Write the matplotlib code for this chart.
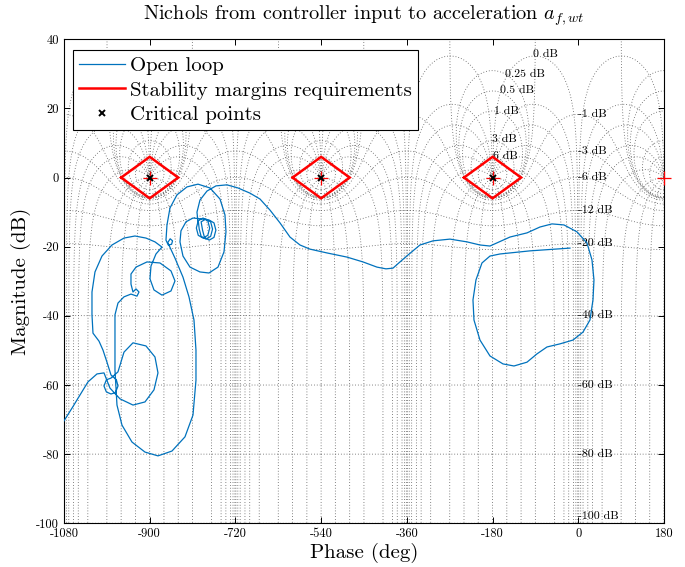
import numpy as np
import matplotlib
matplotlib.use("Agg")
import matplotlib.pyplot as plt
from matplotlib.lines import Line2D

plt.rcParams.update({
    "font.family": "serif",
    "font.serif": ["cmr10"],
    "mathtext.fontset": "cm",
    "axes.unicode_minus": False,
})

# ---------------------------------------------------------------- data
# Open-loop frequency response (phase in deg, magnitude in dB), low -> high frequency
OL_PHASE = [
    -17.4, -101.4, -164.4, -185.4, -202.2, -214.8, -221.1, -219.0, -206.4, -185.4,
    -158.1, -135.0, -107.7, -86.7, -65.7, -38.4, -11.1, 9.9, 24.6, 30.9,
    33.0, 28.8, 18.3, -2.7, -30.0, -55.2, -80.4, -107.7, -143.4, -170.7,
    -185.4, -206.4, -233.7, -269.4, -305.1, -332.4, -357.6, -374.4, -389.1, -403.8,
    -422.7, -452.1, -485.7, -527.7, -563.4, -584.4, -605.4, -626.4, -647.4, -668.4,
    -689.4, -714.6, -737.7, -760.8, -779.7, -794.4, -800.7, -798.6,
    -802, -798, -788, -778, -774, -778, -788, -798,
    -796, -792, -782, -772, -768, -772, -782, -792,
    -789, -785, -775, -765, -761, -765, -775, -788,
    -809.1, -823.8, -834.3, -836.4, -830.1, -815.4, -794.4, -775.5, -756.6, -744.0,
    -739.8, -741.9, -752.4, -773.4, -798.6, -821.7, -842.7, -857.4, -863.7, -865.8,
    -861.0, -854.0, -852.0, -857.0, -862.0,
    -846.9, -830.1, -817.5, -807.0, -802.8, -802.8, -809.1, -825.9, -853.2, -882.6,
    -909.9, -937.2, -958.2, -968.7, -972.9, -972.9, -972.9, -966.6, -954.0, -939.3,
    -926.7, -922.5, -928.8, -935.1,
    -939.3, -939.3, -928.8, -905.7, -878.4, -855.3, -846.9, -855.3, -874.2, -891.0,
    -899.4, -897.3, -886.8, -874.2, -888.9, -907.8, -930.9, -954.0, -979.2, -1000.2,
    -1014.9, -1021.2, -1021.2, -1019.1, -1006.5, -998.1, -989.7, -981.3,
    -970.0, -966.6, -972.0, -981.3, -991.0, -996.0, -991.0, -981.3,
    -966.6, -954.0, -935.1, -907.8, -888.9, -882.6, -891.0, -909.9, -935.1, -962.4,
    -983.4, -991.8, -996.0,
    -1010.7, -1029.6, -1046.4, -1063.2, -1080.0, -1092.0,
]
OL_MAG = [
    -20.4, -21.2, -22.1, -22.7, -24.7, -29.6, -35.4, -41.2, -47.0, -51.6,
    -53.9, -54.5, -53.4, -51.0, -49.0, -48.1, -47.0, -44.7, -41.2, -35.4,
    -29.6, -23.8, -18.9, -15.7, -13.7, -13.4, -14.3, -16.0, -17.2, -18.9,
    -19.8, -19.5, -18.6, -17.8, -18.3, -19.5, -22.4, -24.4, -26.2, -26.4,
    -25.9, -24.4, -23.0, -21.8, -20.7, -19.5, -17.2, -13.1, -9.4, -6.2,
    -4.5, -3.0, -2.1, -2.4, -3.9, -6.5, -10.0, -12.8,
    -14.6, -16.7, -17.5, -16.7, -14.6, -12.5, -11.7, -12.5,
    -14.9, -17.0, -17.8, -17.0, -14.9, -12.8, -12.0, -12.8,
    -15.2, -17.3, -18.1, -17.3, -15.2, -13.1, -12.3, -12.0,
    -11.7, -12.8, -15.4, -18.6, -22.7, -25.9, -27.3, -27.6, -25.9, -21.5,
    -15.7, -10.8, -6.2, -3.0, -1.9, -2.7, -5.0, -8.8, -13.7, -18.1,
    -19.5, -19.3, -18.3, -17.7, -18.8,
    -23.3, -28.8, -34.5, -41.2, -49.9, -58.6, -68.7, -75.0, -79.1, -80.5,
    -79.4, -76.5, -71.6, -65.8, -55.7, -47.0, -39.7, -36.3, -34.5, -33.7,
    -34.3, -33.1, -32.2, -33.1,
    -30.8, -27.9, -25.9, -24.4, -24.7, -27.0, -29.9, -32.8, -34.0, -32.5,
    -29.3, -25.6, -22.1, -20.1, -18.6, -17.5, -16.9, -17.5, -19.5, -22.7,
    -27.3, -33.1, -39.7, -45.0, -47.3, -49.9, -53.4, -57.1,
    -58.5, -60.3, -62.2, -62.6, -62.0, -60.3, -58.5, -58.0,
    -56.2, -50.5, -47.8, -48.7, -51.9, -56.5, -61.4, -64.9, -65.8, -64.0,
    -60.9, -58.0, -56.5,
    -56.8, -59.1, -62.9, -66.7, -70.4, -73.0,
]

CRITICAL_PHASES = [-900, -540, -180]          # deg, at 0 dB
GAIN_MARGIN_DB = 6.0
PHASE_MARGIN_DEG = 60.0

# Nichols chart grid levels
CL_GAINS_DB = [6, 3, 1, 0.5, 0.25, 0, -1, -3, -6, -12, -20, -40, -60, -80, -100, -120]
CL_PHASES_DEG = [-1, -5, -10, -20, -30, -50, -90, -120, -150, -180,
                 -210, -240, -270, -310, -330, -340, -350, -355, -359]

X_TICKS = [-1080, -900, -720, -540, -360, -180, 0, 180]
Y_TICKS = [-100, -80, -60, -40, -20, 0, 20, 40]
X_LIM = (-1080, 180)
Y_LIM = (-100, 40)

# ---------------------------------------------------------------- figure
fig = plt.figure(figsize=(6.85, 5.67), dpi=100)
ax = fig.add_axes([0.0934, 0.0771, 0.8759, 0.8536])

grid_kw = dict(color="0.35", linestyle=(0, (1, 2.4)), linewidth=0.6, zorder=1)
shifts = [-1440, -1080, -720, -360, 0, 360]

# closed-loop gain contours
for g in CL_GAINS_DB:
    m = 10 ** (g / 20.0)
    if g == 0:
        th = np.linspace(0.002, 2 * np.pi - 0.002, 8000)
    else:
        th = np.linspace(-np.pi, np.pi, 12001)
    T = m * np.exp(1j * th)
    L = T / (1 - T)
    ph = np.degrees(np.unwrap(np.angle(L)))
    mg = 20 * np.log10(np.abs(L))
    if g >= 0:
        ph = ph - 360 * np.round((ph.mean() + 180) / 360)
    for s in shifts:
        ax.plot(ph + s, mg, **grid_kw)

# closed-loop phase contours
r = np.logspace(-6, 5, 30000)
for p in CL_PHASES_DEG:
    T = r * np.exp(1j * np.radians(p))
    L = T / (1 - T)
    ph = np.degrees(np.unwrap(np.angle(L)))
    ph = ph + 360 * np.round((p - ph[0]) / 360)
    mg = 20 * np.log10(np.abs(L))
    for s in shifts:
        ax.plot(ph + s, mg, **grid_kw)

# grid labels
lab_kw = dict(fontsize=8.5, ha="left", va="center", zorder=2)
pos_label_at = {6: (-180, 6.3), 3: (-181, 11.0), 1: (-177, 19.3),
                0.5: (-165, 25.3), 0.25: (-153, 30.0), 0: (-95, 35.6)}
for g in CL_GAINS_DB:
    if g in pos_label_at:
        x, y = pos_label_at[g]
    else:
        m = 10 ** (g / 20.0)
        y = 20 * np.log10(m / (1 - m))
        if y < Y_LIM[0] - 1:
            continue
        y = max(y, -98.0)
        x = -1.5
    ax.text(x, y, "%g dB" % g, **lab_kw)

# open-loop response
ax.plot(OL_PHASE, OL_MAG, color="#0072BD", linewidth=0.9, zorder=3)

# stability margin diamonds
for c in CRITICAL_PHASES:
    dx = [c - PHASE_MARGIN_DEG, c, c + PHASE_MARGIN_DEG, c, c - PHASE_MARGIN_DEG]
    dy = [0, GAIN_MARGIN_DB, 0, -GAIN_MARGIN_DB, 0]
    ax.plot(dx, dy, color="red", linewidth=1.8, zorder=4, solid_joinstyle="miter")

# critical-point markers of the chart (red +) and user points (black x)
crit_all = [c for c in range(-1260, 181, 360) if X_LIM[0] <= c <= X_LIM[1]]
ax.plot(crit_all, [0] * len(crit_all), linestyle="none", marker="+", color="red",
        markersize=10, markeredgewidth=0.9, zorder=5, clip_on=False)
ax.plot(CRITICAL_PHASES, [0] * len(CRITICAL_PHASES), linestyle="none", marker="x",
        color="black", markersize=5, markeredgewidth=1.4, zorder=6)

ax.set_xlim(*X_LIM)
ax.set_ylim(*Y_LIM)
ax.set_xticks(X_TICKS)
ax.set_yticks(Y_TICKS)
ax.tick_params(direction="in", top=True, right=True, length=4, width=0.7,
               labelsize=9)
for sp in ax.spines.values():
    sp.set_linewidth(0.8)

ax.set_xlabel("Phase (deg)", fontsize=15, labelpad=2)
ax.set_ylabel("Magnitude (dB)", fontsize=15, labelpad=4)
ax.set_title(r"Nichols from controller input to acceleration $a_{f,wt}$",
             fontsize=14.6, pad=14)

handles = [
    Line2D([], [], color="#0072BD", linewidth=0.9),
    Line2D([], [], color="red", linewidth=1.8),
    Line2D([], [], color="black", linestyle="none", marker="x", markersize=5,
           markeredgewidth=1.4),
]
labels = ["Open loop", "Stability margins requirements", "Critical points"]
leg = ax.legend(handles, labels, loc="upper left", bbox_to_anchor=(0.015, 0.977),
                fontsize=15, frameon=True, fancybox=False, framealpha=1,
                edgecolor="black", borderpad=0.3, labelspacing=0.28,
                handlelength=2.2, handletextpad=0.25, borderaxespad=0)
leg.get_frame().set_linewidth(0.8)
leg.set_zorder(10)

fig.savefig("out.png", dpi=100)
